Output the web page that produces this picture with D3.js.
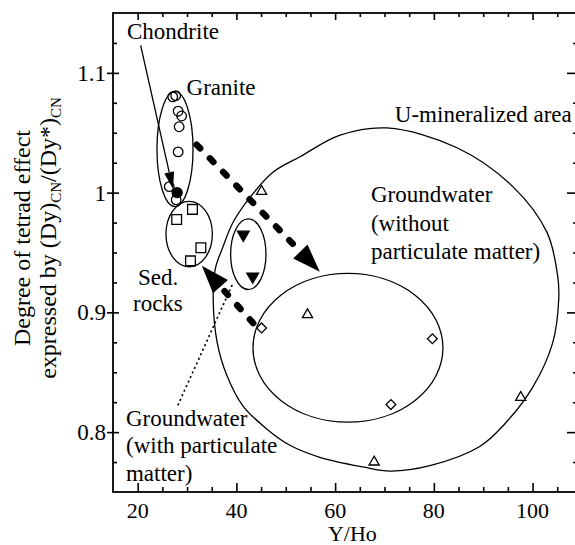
<!DOCTYPE html>
<html>
<head>
<meta charset="utf-8">
<script src="https://cdn.jsdelivr.net/npm/d3@7"></script>
</head>
<body style="margin:0;padding:0;background:#fff">
<svg id="chart" width="575" height="545" font-family="Liberation Serif"></svg>
<script>
// ---- Data: Y/Ho ratio vs. degree of tetrad effect (Dy)CN/(Dy*)CN ----
const xDomain = [15, 109];
const yDomain = [0.75, 1.15];
const xMajorTicks = [20, 40, 60, 80, 100];
const xTickLabels = ["20", "40", "60", "80", "100"];
const yMajorTicks = [0.8, 0.9, 1.0, 1.1];
const yTickLabels = ["0.8", "0.9", "1", "1.1"];

const granite = [[27.1, 1.080], [27.7, 1.081], [28.2, 1.068], [28.9, 1.064],
                 [28.4, 1.055], [28.2, 1.034], [26.4, 1.005], [27.8, 0.994]];
const chondrite = [[28.0, 1.000]];
const sedRocks = [[27.9, 0.9775], [31.1, 0.986], [32.8, 0.954], [30.7, 0.943]];
const gwParticulate = [[41.4, 0.965], [43.3, 0.930]];
const gwTriangles = [[45.1, 1.001], [54.4, 0.898], [67.9, 0.775], [97.6, 0.829]];
const gwDiamonds = [[45.1, 0.887], [79.7, 0.878], [71.3, 0.823]];

// Fields as [centre x, centre y, radius x, radius y] in data units
const graniteField = [27.56, 1.0363, 3.65, 0.048];
const sedField = [30.43, 0.9654, 4.70, 0.0273];
const particulateField = [42.41, 0.9486, 3.58, 0.0295];
const gwField = [62.6, 0.8704, 19.24, 0.0621];

// Outline of the U-mineralized area
const uAreaOutline = [
  [70.5, 1.054], [84.7, 1.0375], [96.0, 1.005], [102.9, 0.967], [105.1, 0.930],
  [105.3, 0.911], [104.1, 0.875], [100.1, 0.838], [94.4, 0.807], [89.3, 0.788],
  [79.2, 0.772], [71.1, 0.7675], [65.6, 0.771], [56.9, 0.779], [50.85, 0.789],
  [46.2, 0.8025], [41.3, 0.822], [38.1, 0.847], [36.1, 0.875], [35.3, 0.911],
  [35.7, 0.936], [37.3, 0.955], [39.3, 0.975], [42.75, 0.996], [47.4, 1.017],
  [52.9, 1.030], [61.0, 1.048]
];

// Trend arrows [from, to]
const trendArrows = [
  [[31.95, 1.040], [56.9, 0.934]],
  [[43.4, 0.891], [33.0, 0.939]]
];
const chondriteArrow = [[20.6, 1.123], [27.15, 1.003]];
const particulateLeader = [[28.2, 0.823], [39.1, 0.9225]];

// ---- Scales ----
const FONT = "Liberation Serif";
const svg = d3.select("#chart");
const x = d3.scaleLinear().domain(xDomain).range([113, 577]);
const y = d3.scaleLinear().domain(yDomain).range([492, 13]);

const minorX = d3.range(20, 110, 5).filter(v => v % 20 !== 0);
const minorY = d3.range(0, 16).map(i => +(0.775 + i * 0.025).toFixed(3))
  .filter(v => v < 1.15 && !yMajorTicks.some(m => Math.abs(m - v) < 1e-6));

// ---- Axes (tick marks only; labels are drawn below) ----
function addAxis(axis, tx, ty) {
  const g = svg.append("g").attr("transform", `translate(${tx},${ty})`).call(axis);
  g.select(".domain").remove();
  g.selectAll("text").remove();
  g.attr("font-family", null).attr("font-size", null);
  g.selectAll("line").attr("stroke", "#000").attr("stroke-width", 1.6);
  return g;
}
addAxis(d3.axisBottom(x).tickValues(xMajorTicks).tickSize(-9), 0, 492);
addAxis(d3.axisBottom(x).tickValues(minorX).tickSize(-5), 0, 492);
addAxis(d3.axisTop(x).tickValues(xMajorTicks).tickSize(-7), 0, 13);
addAxis(d3.axisTop(x).tickValues(minorX).tickSize(-4), 0, 13);
addAxis(d3.axisLeft(y).tickValues(yMajorTicks).tickSize(6), 113, 0);
addAxis(d3.axisLeft(y).tickValues(yMajorTicks).tickSize(-6), 113, 0);
addAxis(d3.axisLeft(y).tickValues(minorY).tickSize(-4), 113, 0);
addAxis(d3.axisRight(y).tickValues(yMajorTicks).tickSize(-10), 577, 0);
addAxis(d3.axisRight(y).tickValues(minorY).tickSize(-4), 577, 0);

svg.append("rect")
  .attr("x", 113).attr("y", 13).attr("width", 464).attr("height", 479)
  .attr("fill", "none").attr("stroke", "#000").attr("stroke-width", 1.8);

function txt(sel, size) {
  return sel.append("text").attr("font-family", FONT).attr("font-size", size);
}

// Tick labels
xMajorTicks.forEach((d, i) => {
  txt(svg, 22).attr("x", x(d)).attr("y", 518).attr("text-anchor", "middle").text(xTickLabels[i]);
});
yMajorTicks.forEach((d, i) => {
  txt(svg, 23).attr("x", 106).attr("y", y(d) + 8).attr("text-anchor", "end").text(yTickLabels[i]);
});

// Axis titles
txt(svg, 22).attr("x", x(63.5)).attr("y", 541).attr("text-anchor", "middle").text("Y/Ho");

const yTitle = svg.append("g").attr("transform", "translate(30,238) rotate(-90)");
txt(yTitle, 24).attr("x", 0).attr("y", 0).attr("text-anchor", "middle").text("Degree of tetrad effect");
const t2 = txt(yTitle, 24).attr("x", 0).attr("y", 26).attr("text-anchor", "middle");
t2.append("tspan").text("expressed by (Dy)");
t2.append("tspan").attr("font-size", 15).attr("dy", 5).text("CN");
t2.append("tspan").attr("dy", -5).text("/(Dy*)");
t2.append("tspan").attr("font-size", 15).attr("dy", 5).text("CN");

// ---- Fields ----
const fieldsG = svg.append("g").attr("fill", "none").attr("stroke", "#000").attr("stroke-width", 1.3);
[graniteField, sedField, particulateField, gwField].forEach(f => {
  fieldsG.append("ellipse")
    .attr("cx", x(f[0])).attr("cy", y(f[1]))
    .attr("rx", x(f[0] + f[2]) - x(f[0]))
    .attr("ry", y(f[1]) - y(f[1] + f[3]));
});
fieldsG.append("path")
  .attr("d", d3.line().x(d => x(d[0])).y(d => y(d[1]))
    .curve(d3.curveCatmullRomClosed.alpha(0.5))(uAreaOutline));

// ---- Arrows ----
function arrowGeom(a, b, headLen) {
  const p0 = [x(a[0]), y(a[1])], p1 = [x(b[0]), y(b[1])];
  const dx = p1[0] - p0[0], dy = p1[1] - p0[1];
  const len = Math.hypot(dx, dy);
  const u = [dx / len, dy / len], n = [-u[1], u[0]];
  const base = [p1[0] - u[0] * headLen, p1[1] - u[1] * headLen];
  return { p0, p1, u, n, base };
}
function headPath(g, hw) {
  return `M${g.p1[0]},${g.p1[1]}L${g.base[0] + g.n[0] * hw},${g.base[1] + g.n[1] * hw}` +
         `L${g.base[0] - g.n[0] * hw},${g.base[1] - g.n[1] * hw}Z`;
}
const arrowsG = svg.append("g");
trendArrows.forEach(([a, b]) => {
  const g = arrowGeom(a, b, 28);
  arrowsG.append("line")
    .attr("x1", g.p0[0]).attr("y1", g.p0[1])
    .attr("x2", g.base[0] - g.u[0] * 3).attr("y2", g.base[1] - g.u[1] * 3)
    .attr("stroke", "#000").attr("stroke-width", 6.5)
    .attr("stroke-linecap", "round").attr("stroke-dasharray", "5 14");
  arrowsG.append("path").attr("d", headPath(g, 10)).attr("fill", "#000");
});
{
  const g = arrowGeom(chondriteArrow[0], chondriteArrow[1], 17);
  arrowsG.append("line")
    .attr("x1", g.p0[0]).attr("y1", g.p0[1]).attr("x2", g.base[0]).attr("y2", g.base[1])
    .attr("stroke", "#000").attr("stroke-width", 1.3);
  arrowsG.append("path").attr("d", headPath(g, 5)).attr("fill", "#000");
}
arrowsG.append("line")
  .attr("x1", x(particulateLeader[0][0])).attr("y1", y(particulateLeader[0][1]))
  .attr("x2", x(particulateLeader[1][0])).attr("y2", y(particulateLeader[1][1]))
  .attr("stroke", "#000").attr("stroke-width", 1.8)
  .attr("stroke-linecap", "round").attr("stroke-dasharray", "0.5 4.5");

// ---- Points ----
const ptsG = svg.append("g").attr("stroke", "#000").attr("stroke-width", 1.3);
ptsG.append("g").selectAll("circle").data(granite).join("circle")
  .attr("cx", d => x(d[0])).attr("cy", d => y(d[1])).attr("r", 4.8).attr("fill", "none");
ptsG.append("g").selectAll("circle").data(chondrite).join("circle")
  .attr("cx", d => x(d[0])).attr("cy", d => y(d[1])).attr("r", 5).attr("fill", "#000");
function symbols(data, type, size, fill, rotate) {
  ptsG.append("g").selectAll("path").data(data).join("path")
    .attr("d", d3.symbol().type(type).size(size))
    .attr("transform", d => `translate(${x(d[0])},${y(d[1])})${rotate ? ` rotate(${rotate})` : ""}`)
    .attr("fill", fill);
}
symbols(sedRocks, d3.symbolSquare, 95, "#fff");
symbols(gwTriangles, d3.symbolTriangle, 45, "#fff");
symbols(gwParticulate, d3.symbolTriangle, 60, "#000", 180);
symbols(gwDiamonds, d3.symbolSquare, 48, "#fff", 45);

// ---- Annotations ----
function label(lines, px, py, lh) {
  const t = txt(svg, 23);
  lines.forEach((s, i) => t.append("tspan").attr("x", x(px)).attr("y", y(py) + i * lh).text(s));
}
label(["Chondrite"], 17.84, 1.1283, 0);
label(["Granite"], 29.9, 1.0815, 0);
label(["U-mineralized area"], 72.1, 1.0592, 0);
label(["Groundwater", "(without", "particulate matter)"], 67.26, 0.9921, 28.5);
label(["Sed."], 20.05, 0.9225, 0);
label(["rocks"], 19.05, 0.901, 0);
label(["Groundwater", "(with particulate", "matter)"], 17.63, 0.805, 27.3);
</script>
</body>
</html>
